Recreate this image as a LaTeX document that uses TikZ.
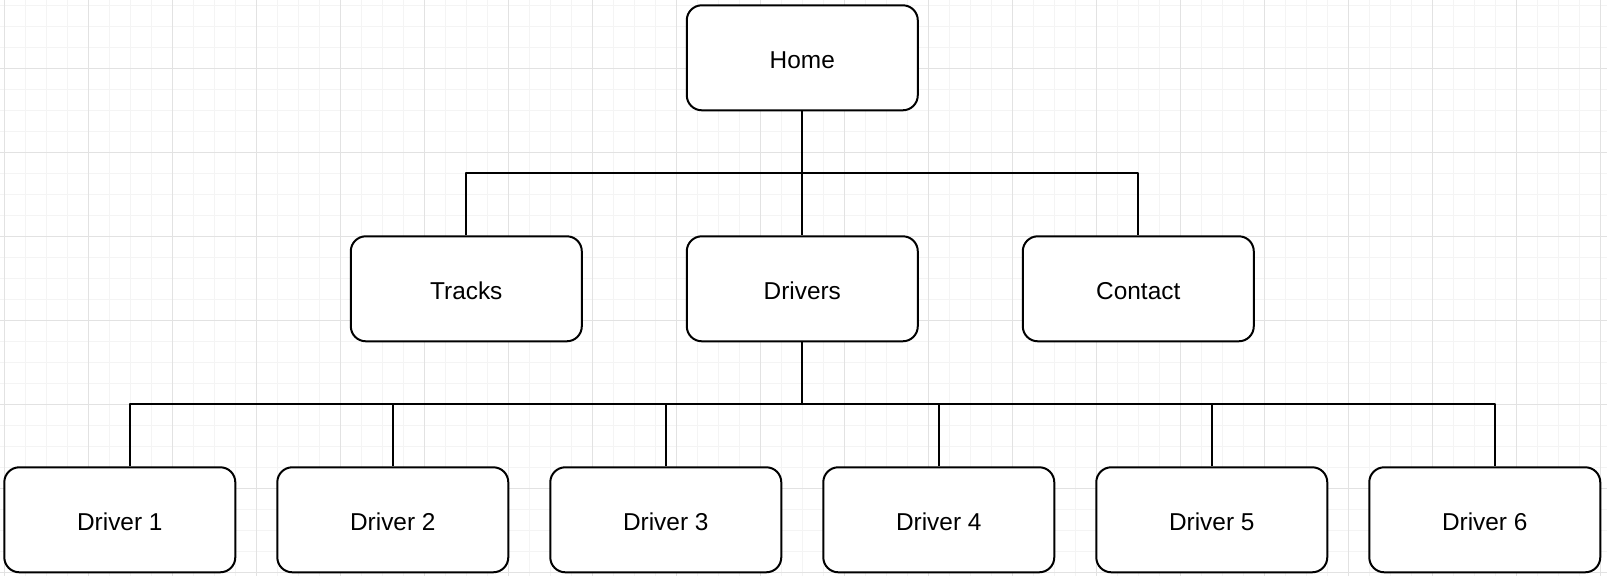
\documentclass[tikz,border=0pt]{standalone}
\usepackage{fontspec}
\setmainfont{Liberation Sans}
\definecolor{gridminor}{RGB}{244,244,244}
\definecolor{gridmajor}{RGB}{226,226,226}
\tikzset{
  page box/.style={
    draw,
    line width=1pt,
    rounded corners=7.5pt,
    fill=white,
    minimum width=115.5pt,
    minimum height=52.5pt,
    inner sep=0pt,
    text height=10.7pt,
    font=\fontsize{12.2}{14}\selectfont
  },
  link/.style={line width=1pt}
}
\begin{document}
\begin{tikzpicture}[x=10.5pt,y=-10.5pt,line join=round]
\useasboundingbox (-0.205,-0.252) rectangle (76.321,27.176);
\fill[white] (-0.205,-0.252) rectangle (76.321,27.176);
% background grid
\draw[gridminor,line width=0.5pt,step=10.5pt] (-0.2,27.17) grid (76.32,-0.25);
\begin{scope}[yshift=-31.5pt]
\draw[gridmajor,line width=0.5pt,step=42pt] (-0.2,24.17) grid (76.32,-3.25);
\end{scope}
% pages
\node[page box] (home)    at (38, 2.5) {Home};
\node[page box] (tracks)  at (22,13.5) {Tracks};
\node[page box] (drivers) at (38,13.5) {Drivers};
\node[page box] (contact) at (54,13.5) {Contact};
\node[page box] (d1) at ( 5.5,24.5) {Driver 1};
\node[page box] (d2) at (18.5,24.5) {Driver 2};
\node[page box] (d3) at (31.5,24.5) {Driver 3};
\node[page box] (d4) at (44.5,24.5) {Driver 4};
\node[page box] (d5) at (57.5,24.5) {Driver 5};
\node[page box] (d6) at (70.5,24.5) {Driver 6};
\coordinate (topbus) at (38, 8);
\coordinate (lowbus) at (38,19);
% links
\draw[link] (home) -- (drivers);
\draw[link] (tracks) |- (topbus) -| (contact);
\draw[link] (drivers) -- (lowbus);
\draw[link] ([xshift=5.25pt]d1.north) |- (lowbus) -| ([xshift=5.25pt]d6.north);
\draw[link] (d2) -- (d2 |- lowbus);
\draw[link] (d3) -- (d3 |- lowbus);
\draw[link] (d4) -- (d4 |- lowbus);
\draw[link] (d5) -- (d5 |- lowbus);
\end{tikzpicture}
\end{document}
